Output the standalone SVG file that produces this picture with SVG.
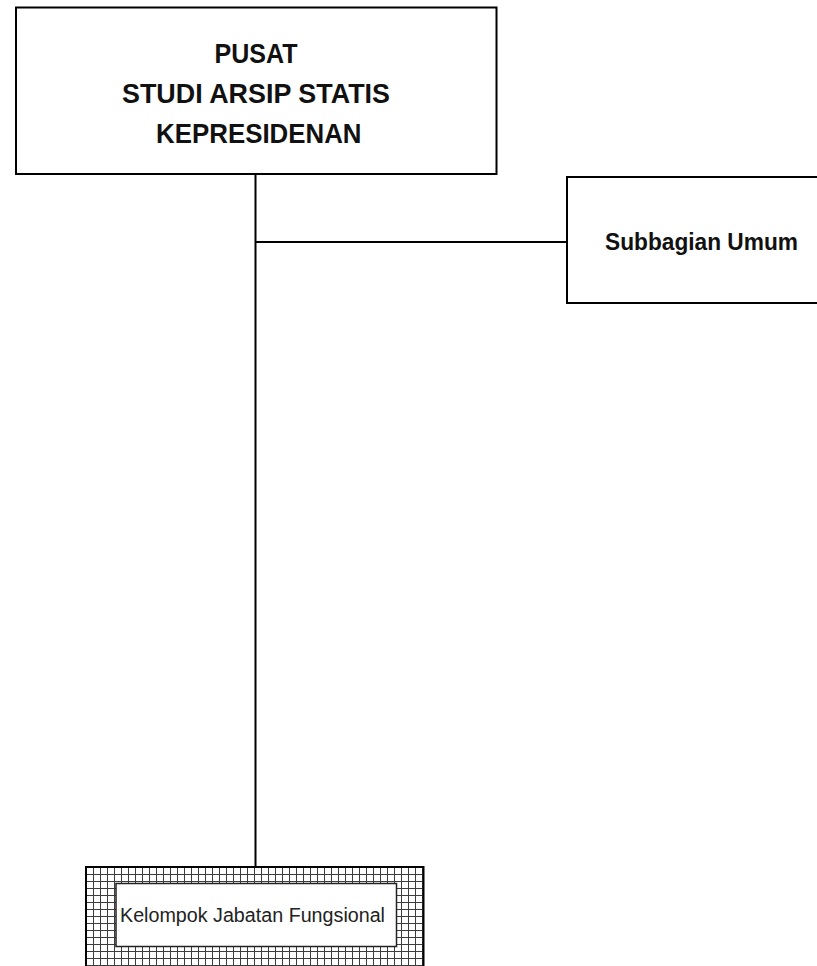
<svg xmlns="http://www.w3.org/2000/svg" width="817" height="966" viewBox="0 0 817 966">
  <style>
    .box { fill: #ffffff; stroke: #000000; stroke-width: 2; }
    .link { fill: none; stroke: #000000; stroke-width: 2; }
    .head { font-family: "Liberation Sans", Arial, sans-serif; font-weight: bold; fill: #111111; text-anchor: middle; }
    .plain { font-family: "Liberation Sans", Arial, sans-serif; fill: #222222; text-anchor: middle; }
  </style>
  <defs>
    <!-- crosshatch used for the functional group frame -->
    <pattern id="grid" x="86" y="867" width="7" height="7" patternUnits="userSpaceOnUse">
      <rect width="7" height="7" fill="#ffffff"/>
      <path d="M0 0.5 H7 M0.5 0 V7" stroke="#3c3c3c" stroke-width="1" fill="none"/>
    </pattern>
  </defs>

  <!-- connectors -->
  <g id="connectors">
    <line class="link" x1="255.5" y1="174" x2="255.5" y2="867"/>
    <line class="link" x1="255.5" y1="242" x2="567" y2="242"/>
  </g>

  <!-- head of the centre -->
  <g id="pusat">
    <rect class="box" x="16" y="7.5" width="480.5" height="166.5"/>
    <text class="head" font-size="28.5" x="256" y="63" textLength="83" lengthAdjust="spacingAndGlyphs">PUSAT</text>
    <text class="head" font-size="28.5" x="256" y="103" textLength="268" lengthAdjust="spacingAndGlyphs">STUDI ARSIP STATIS</text>
    <text class="head" font-size="28.5" x="258.8" y="143" textLength="205.5" lengthAdjust="spacingAndGlyphs">KEPRESIDENAN</text>
  </g>

  <!-- general affairs subdivision -->
  <g id="subbagian-umum">
    <rect class="box" x="567" y="177" width="270" height="126"/>
    <text class="head" font-size="24.5" x="701.5" y="249.5" textLength="193" lengthAdjust="spacingAndGlyphs">Subbagian Umum</text>
  </g>

  <!-- functional positions group -->
  <g id="jabatan-fungsional">
    <rect x="86" y="867" width="337.5" height="110" fill="url(#grid)" stroke="#000000" stroke-width="2"/>
    <rect x="116" y="883.5" width="280.5" height="63" fill="#ffffff" stroke="#222222" stroke-width="1.5"/>
    <text class="plain" font-size="19.5" x="252.5" y="922" textLength="265" lengthAdjust="spacingAndGlyphs">Kelompok Jabatan Fungsional</text>
  </g>
</svg>
